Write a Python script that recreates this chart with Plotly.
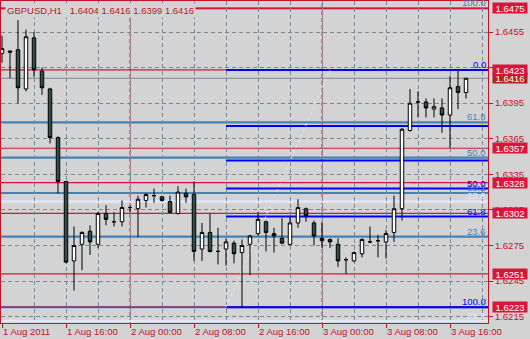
import plotly.graph_objects as go
import pandas as pd

# ---------------- data ----------------
times = pd.date_range("2011-08-01 08:00", periods=59, freq="h").strftime("%Y-%m-%d %H:%M").tolist()

opens = [1.6437, 1.6439, 1.6440, 1.6407, 1.6450, 1.6422, 1.6407, 1.6366, 1.6329, 1.6262,
         1.6276, 1.6287, 1.6276, 1.6302, 1.6295, 1.6295, 1.6307, 1.6306, 1.6313, 1.6317,
         1.6316, 1.6312, 1.6302, 1.6319, 1.6318, 1.6272, 1.6286, 1.6270, 1.6272, 1.6277,
         1.6269, 1.6276, 1.6285, 1.6295, 1.6285, 1.6281, 1.6276, 1.6294, 1.6306, 1.6294,
         1.6281, 1.6280, 1.6276, 1.6263, 1.6262, 1.6268, 1.6278, 1.6279, 1.6278, 1.6286,
         1.6306, 1.6372, 1.6396, 1.6396, 1.6390, 1.6391, 1.6385, 1.6409, 1.6404]
highs = [1.6452, 1.6439, 1.6465, 1.6457, 1.6455, 1.6425, 1.6408, 1.6367, 1.6329, 1.6291,
         1.6287, 1.6292, 1.6303, 1.6309, 1.6303, 1.6313, 1.6309, 1.6317, 1.6319, 1.6323,
         1.6317, 1.6317, 1.6325, 1.6323, 1.6329, 1.6294, 1.6302, 1.6290, 1.6281, 1.6279,
         1.6280, 1.6284, 1.6303, 1.6296, 1.6290, 1.6298, 1.6300, 1.6314, 1.6307, 1.6296,
         1.6294, 1.6281, 1.6281, 1.6265, 1.6270, 1.6281, 1.6291, 1.6284, 1.6288, 1.6317,
         1.6374, 1.6407, 1.6405, 1.6399, 1.6399, 1.6399, 1.6418, 1.6423, 1.6416]
lows = [1.6429, 1.6416, 1.6395, 1.6405, 1.6417, 1.6402, 1.6361, 1.6319, 1.6260, 1.6237,
        1.6254, 1.6267, 1.6273, 1.6292, 1.6291, 1.6291, 1.6303, 1.6282, 1.6307, 1.6311,
        1.6312, 1.6302, 1.6301, 1.6311, 1.6262, 1.6262, 1.6269, 1.6259, 1.6258, 1.6260,
        1.6223, 1.6250, 1.6283, 1.6270, 1.6269, 1.6276, 1.6275, 1.6290, 1.6295, 1.6275,
        1.6273, 1.6273, 1.6257, 1.6251, 1.6261, 1.6265, 1.6277, 1.6265, 1.6264, 1.6278,
        1.6296, 1.6371, 1.6383, 1.6383, 1.6383, 1.6370, 1.6357, 1.6390, 1.6399]
closes = [1.6441, 1.6438, 1.6408, 1.6451, 1.6423, 1.6408, 1.6366, 1.6329, 1.6261, 1.6275,
          1.6286, 1.6278, 1.6302, 1.6297, 1.6295, 1.6307, 1.6307, 1.6314, 1.6318, 1.6317,
          1.6313, 1.6303, 1.6320, 1.6316, 1.6270, 1.6286, 1.6270, 1.6270, 1.6278, 1.6268,
          1.6275, 1.6283, 1.6297, 1.6286, 1.6283, 1.6277, 1.6294, 1.6307, 1.6300, 1.6283,
          1.6279, 1.6278, 1.6262, 1.6263, 1.6269, 1.6280, 1.6278, 1.6279, 1.6285, 1.6306,
          1.6373, 1.6395, 1.6396, 1.6391, 1.6392, 1.6385, 1.6408, 1.6404, 1.6416]

x_tick_idx = [0, 8, 16, 24, 32, 40, 48, 56]
x_tick_labels = ["1 Aug 2011", "1 Aug 16:00", "2 Aug 00:00", "2 Aug 08:00",
                 "2 Aug 16:00", "3 Aug 00:00", "3 Aug 08:00", "3 Aug 16:00"]
day_sep_idx = [16, 40]

y_tick_vals = [1.6215, 1.6245, 1.6275, 1.6305, 1.6335, 1.6365, 1.6395, 1.6425, 1.6455]
y_tick_labels = ["1.6215", "1.6245", "1.6275", "1.6305", "1.6335", "1.6365", "1.6395", "1.6425", "1.6455"]

red_levels = [1.6475, 1.6423, 1.6357, 1.6328, 1.6302, 1.6251, 1.6223]
bid_price = 1.6416

fib_ratios = [0.0, 23.6, 38.2, 50.0, 61.8, 100.0]
fib1_from, fib1_to = 1.6223, 1.6475          # steel blue, full width
fib2_from, fib2_to = 1.6423, 1.6223          # blue, starts at bar 28
fib2_start_idx, fib2_end_idx = 28, 41
fib3_from, fib3_to = 1.6475, 1.5785          # lavender, full width
fib2_shown = [0.0, 50.0, 61.8, 100.0]
fib3_shown = [23.6, 38.2]

title_text = "GBPUSD,H1\u00a0\u00a0 1.6404 1.6416 1.6399 1.6416"

# ---------------- style ----------------
BG = "#D3D3D3"
AXIS = "#C0142A"
RED = "#DC143C"
STEEL = "#4682B4"
BLUE = "#0000FF"
LAV = "#E6E6FA"
GRID = "#778899"
FONT = "Liberation Sans, Arial, sans-serif"

Y_MIN, Y_MAX = 1.620964, 1.648114
t0 = pd.Timestamp(times[0])
x_range = [(t0 - pd.Timedelta(minutes=7.5)).strftime("%Y-%m-%d %H:%M:%S"),
           (t0 + pd.Timedelta(hours=60.75)).strftime("%Y-%m-%d %H:%M:%S")]

def fib(a, b, r):
    return a + (b - a) * r / 100.0

fig = go.Figure()

shapes = []
# day separators
for i in day_sep_idx:
    shapes.append(dict(type="line", xref="x", yref="paper", x0=times[i], x1=times[i], y0=0, y1=1,
                       line=dict(color=RED, width=1, dash="4px,3px"), layer="between"))
# fib1 steel (full width)
for r in fib_ratios:
    p = fib(fib1_from, fib1_to, r)
    shapes.append(dict(type="line", xref="paper", yref="y", x0=0, x1=1, y0=p, y1=p,
                       line=dict(color=STEEL, width=2.2), layer="between"))
# fib3 lavender (full width)
for r in fib3_shown:
    p = fib(fib3_from, fib3_to, r)
    shapes.append(dict(type="line", xref="paper", yref="y", x0=0, x1=1, y0=p, y1=p,
                       line=dict(color=LAV, width=2.5), layer="between"))
# fib2 blue (ray from start bar)
for r in fib_ratios:
    p = fib(fib2_from, fib2_to, r)
    shapes.append(dict(type="line", xref="x", yref="y", x0=times[fib2_start_idx], x1=x_range[1], y0=p, y1=p,
                       line=dict(color=BLUE, width=2), layer="between"))
# bid line
shapes.append(dict(type="line", xref="paper", yref="y", x0=0, x1=1, y0=bid_price, y1=bid_price,
                   line=dict(color=GRID, width=1), layer="between"))
# red horizontal lines
for p in red_levels:
    shapes.append(dict(type="line", xref="paper", yref="y", x0=0, x1=1, y0=p, y1=p,
                       line=dict(color=RED, width=1.2), layer="between"))
# fib2 anchor (dotted)
shapes.append(dict(type="line", xref="x", yref="y",
                   x0=times[fib2_start_idx], y0=fib2_to, x1=times[fib2_end_idx], y1=fib2_from,
                   line=dict(color=LAV, width=1, dash="dot"), layer="between"))

fig.add_trace(go.Candlestick(
    x=times, open=opens, high=highs, low=lows, close=closes,
    increasing=dict(line=dict(color="black", width=1), fillcolor="white"),
    decreasing=dict(line=dict(color="black", width=1), fillcolor="#2F4F4F"),
    whiskerwidth=0, hoverinfo="skip", showlegend=False))

annotations = []
LAB_X = (487 - 1) / 487.0

def level_label(text, price, color):
    return dict(xref="paper", yref="y", x=LAB_X, y=price, xanchor="right", yanchor="middle",
                yshift=5.5, text=text, showarrow=False, borderpad=0,
                font=dict(family=FONT, size=9.5, color=color))

for r in fib2_shown:
    annotations.append(level_label(f"{r:.1f}", fib(fib2_from, fib2_to, r), BLUE))
for r in fib_ratios:
    annotations.append(level_label(f"{r:.1f}", fib(fib1_from, fib1_to, r), STEEL))
for r in fib3_shown:
    annotations.append(level_label(f"{r:.1f}", fib(fib3_from, fib3_to, r), LAV))

BOX_X = (491.5 - 1) / 487.0

def price_box(price, bg):
    return dict(xref="paper", yref="y", x=BOX_X, y=price, xanchor="left", yanchor="middle",
                text=f"{price:.4f}", showarrow=False, bgcolor=bg, borderpad=0,
                width=34, height=10, align="center",
                font=dict(family=FONT, size=9.5, color="white"))

annotations.append(price_box(bid_price, "#B22222"))
for p in red_levels:
    annotations.append(price_box(p, RED))

annotations.append(dict(xref="paper", yref="paper", x=(5 - 1) / 487.0, y=(323 - 10) / 322.0,
                        xanchor="left", yanchor="middle", text=title_text, showarrow=False,
                        bgcolor=BG, borderpad=1, font=dict(family=FONT, size=9.5, color=AXIS)))

fig.update_layout(
    width=530, height=339,
    margin=dict(l=1, r=42, t=1, b=16, pad=0),
    paper_bgcolor=BG, plot_bgcolor=BG,
    showlegend=False, boxgap=0.38,
    shapes=shapes, annotations=annotations,
    font=dict(family=FONT, size=9.5, color=AXIS),
)

fig.update_xaxes(
    type="date", range=x_range, rangeslider=dict(visible=False),
    tickvals=[times[i] for i in x_tick_idx], ticktext=x_tick_labels,
    ticks="outside", ticklen=4, tickcolor=AXIS, tickwidth=1,
    ticklabelposition="outside right",
    tickfont=dict(family=FONT, size=9.5, color=AXIS),
    showgrid=True, gridcolor=GRID, gridwidth=1, griddash="4px,3px",
    minor=dict(dtick=4 * 3600 * 1000, tick0=times[0], showgrid=True, gridcolor=GRID,
               gridwidth=1, griddash="4px,3px", ticks=""),
    showline=True, linecolor=AXIS, linewidth=1, mirror=True, zeroline=False,
)
fig.update_yaxes(
    side="right", range=[Y_MIN, Y_MAX],
    tickvals=y_tick_vals, ticktext=y_tick_labels,
    ticks="outside", ticklen=4, tickcolor=AXIS, tickwidth=1,
    tickfont=dict(family=FONT, size=9.5, color=AXIS),
    showgrid=True, gridcolor=GRID, gridwidth=1, griddash="4px,3px",
    showline=True, linecolor=AXIS, linewidth=1, mirror=True, zeroline=False,
)

fig.write_html("out.html")
